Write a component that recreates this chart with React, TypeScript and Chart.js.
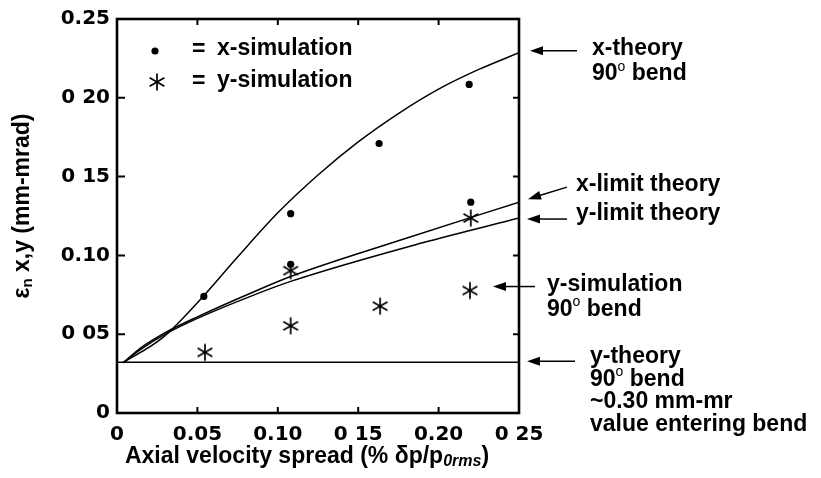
import React, { useEffect, useRef } from "react";
import { Chart, registerables } from "chart.js";
Chart.register(...registerables);

const xTickValues = [0, 0.05, 0.1, 0.15, 0.2, 0.25];
const xTickLabels = ["0", "0.05", "0.10", "0 15", "0.20", "0 25"];
const yTickValues = [0, 0.05, 0.1, 0.15, 0.2, 0.25];
const yTickLabels = ["0", "0 05", "0.10", "0 15", "0 20", "0.25"];

const xSimX = [0.054, 0.108, 0.108, 0.163, 0.219, 0.22];
const xSimY = [0.074, 0.1265, 0.0944, 0.171, 0.2085, 0.1338];
const ySimX = [0.0547, 0.108, 0.108, 0.1636, 0.2195, 0.22];
const ySimY = [0.0385, 0.0553, 0.0903, 0.0678, 0.0777, 0.1237];

const xTheoryX = [0.004, 0.0286, 0.05, 0.075, 0.1, 0.125, 0.15, 0.175, 0.2, 0.225, 0.25];
const xTheoryY = [0.032, 0.048, 0.07, 0.099, 0.127, 0.151, 0.172, 0.19, 0.2055, 0.218, 0.2286];
const xLimitX = [0.004, 0.015, 0.03, 0.05, 0.083, 0.108, 0.174, 0.25];
const xLimitY = [0.032, 0.0415, 0.051, 0.061, 0.076, 0.0866, 0.109, 0.1338];
const yLimitX = [0.004, 0.015, 0.03, 0.05, 0.083, 0.108, 0.19, 0.25];
const yLimitY = [0.032, 0.0405, 0.05, 0.06, 0.074, 0.0835, 0.108, 0.1237];
const yTheoryX = [0, 0.25];
const yTheoryY = [0.0322, 0.0322];

const TXT = '"Liberation Sans", Arial, sans-serif';

function pts(xs: number[], ys: number[]) {
  return xs.map((x, i) => ({ x, y: ys[i] }));
}

function makeAsterisk(): HTMLCanvasElement {
  const c = document.createElement("canvas");
  c.width = 20;
  c.height = 20;
  const g = c.getContext("2d")!;
  g.strokeStyle = "#000";
  g.lineWidth = 1.7;
  const r = 8.5;
  for (const a of [90, 30, 150]) {
    const rad = (a * Math.PI) / 180;
    g.beginPath();
    g.moveTo(10 - r * Math.cos(rad), 10 - r * Math.sin(rad));
    g.lineTo(10 + r * Math.cos(rad), 10 + r * Math.sin(rad));
    g.stroke();
  }
  return c;
}

type Part = { t: string; f: string; dy?: number };
function richWidth(ctx: CanvasRenderingContext2D, parts: Part[]) {
  let w = 0;
  for (const p of parts) {
    ctx.font = p.f;
    w += ctx.measureText(p.t).width;
  }
  return w;
}
function drawRich(ctx: CanvasRenderingContext2D, parts: Part[], x: number, y: number) {
  let cx = x;
  for (const p of parts) {
    ctx.font = p.f;
    ctx.fillText(p.t, cx, y + (p.dy || 0));
    cx += ctx.measureText(p.t).width;
  }
}

function arrow(ctx: CanvasRenderingContext2D, tx: number, ty: number, sx: number, sy: number) {
  const ang = Math.atan2(sy - ty, sx - tx);
  const hl = 13, hw = 4.5;
  ctx.strokeStyle = "#000";
  ctx.lineWidth = 1.5;
  ctx.beginPath();
  ctx.moveTo(tx + Math.cos(ang) * hl * 0.8, ty + Math.sin(ang) * hl * 0.8);
  ctx.lineTo(sx, sy);
  ctx.stroke();
  ctx.beginPath();
  ctx.moveTo(tx, ty);
  const bx = tx + Math.cos(ang) * hl, by = ty + Math.sin(ang) * hl;
  ctx.lineTo(bx - Math.sin(ang) * hw, by + Math.cos(ang) * hw);
  ctx.lineTo(bx + Math.sin(ang) * hw, by - Math.cos(ang) * hw);
  ctx.closePath();
  ctx.fillStyle = "#000";
  ctx.fill();
}

const asteriskImg = makeAsterisk();

const decorPlugin = {
  id: "decor",
  afterDraw(chart: any) {
    const ctx: CanvasRenderingContext2D = chart.ctx;
    const { left, right, top, bottom } = chart.chartArea;
    const xs = chart.scales.x;
    const ys = chart.scales.y;
    ctx.save();
    // frame
    ctx.strokeStyle = "#000";
    ctx.lineWidth = 2.6;
    ctx.strokeRect(left, top, right - left, bottom - top);
    // inward ticks
    ctx.lineWidth = 2;
    xs.ticks.forEach((t: any) => {
      const px = xs.getPixelForValue(t.value);
      ctx.beginPath();
      ctx.moveTo(px, bottom);
      ctx.lineTo(px, bottom - 6);
      ctx.moveTo(px, top);
      ctx.lineTo(px, top + 6);
      ctx.stroke();
    });
    ys.ticks.forEach((t: any) => {
      const py = ys.getPixelForValue(t.value);
      ctx.beginPath();
      ctx.moveTo(left, py);
      ctx.lineTo(left + 8, py);
      ctx.moveTo(right, py);
      ctx.lineTo(right - 6, py);
      ctx.stroke();
    });

    ctx.fillStyle = "#000";
    ctx.textBaseline = "middle";
    ctx.textAlign = "left";
    const f22 = `bold 23px ${TXT}`;

    // legend
    ctx.beginPath();
    ctx.arc(left + 38, top + 32, 3.6, 0, Math.PI * 2);
    ctx.fill();
    ctx.drawImage(asteriskImg, left + 40 - 10, top + 63 - 10);
    ctx.font = f22;
    ctx.fillText("=", left + 75, top + 31);
    ctx.fillText("x-simulation", left + 100, top + 30);
    ctx.fillText("=", left + 75, top + 63);
    ctx.fillText("y-simulation", left + 100, top + 62);

    const deg = (x: number, y: number) =>
      drawRich(ctx, [
        { t: "90", f: f22 },
        { t: "o", f: `14px ${TXT}`, dy: -7 },
        { t: " bend", f: f22 },
      ], x, y);

    // x-theory
    const yxt = ys.getPixelForValue(xTheoryY[xTheoryY.length - 1]);
    arrow(ctx, right + 11, yxt - 2, right + 58, yxt - 2);
    ctx.font = f22;
    ctx.fillText("x-theory", right + 73, yxt - 4);
    deg(right + 73, yxt + 21);

    // x-limit
    const yxl = ys.getPixelForValue(xLimitY[xLimitY.length - 1]);
    arrow(ctx, right + 9, yxl - 3, right + 48, yxl - 15);
    ctx.font = f22;
    ctx.fillText("x-limit theory", right + 57, yxl - 17);

    // y-limit
    const yyl = ys.getPixelForValue(yLimitY[yLimitY.length - 1]);
    arrow(ctx, right + 8, yyl + 1, right + 48, yyl + 1);
    ctx.font = f22;
    ctx.fillText("y-limit theory", right + 57, yyl - 4);

    // y-simulation
    const yys = ys.getPixelForValue(ySimY[4]) - 4;
    arrow(ctx, right - 26, yys, right + 16, yys);
    ctx.font = f22;
    ctx.fillText("y-simulation", right + 28, yys - 2);
    deg(right + 28, yys + 23);

    // y-theory
    const yyt = ys.getPixelForValue(yTheoryY[0]) - 1;
    arrow(ctx, right + 8, yyt, right + 56, yyt);
    ctx.font = f22;
    ctx.fillText("y-theory", right + 71, yyt - 5);
    deg(right + 71, yyt + 18);
    ctx.font = f22;
    ctx.fillText("~0.30 mm-mr", right + 71, yyt + 40);
    ctx.fillText("value entering bend", right + 71, yyt + 63);

    // x-axis title
    const xParts: Part[] = [
      { t: "Axial velocity spread (% \u03b4p/p", f: f22 },
      { t: "0rms", f: `italic bold 16px ${TXT}`, dy: 5 },
      { t: ")", f: f22 },
    ];
    const xw = richWidth(ctx, xParts);
    drawRich(ctx, xParts, (left + right) / 2 - 11 - xw / 2, 457);

    // y-axis title
    const yParts: Part[] = [
      { t: "\u03b5", f: f22 },
      { t: "n", f: `bold 15px ${TXT}`, dy: 5 },
      { t: " x,y (mm-mrad)", f: f22 },
    ];
    const yw = richWidth(ctx, yParts);
    ctx.translate(23, 206);
    ctx.rotate(-Math.PI / 2);
    drawRich(ctx, yParts, -yw / 2, 0);
    ctx.restore();
  },
};

export default function App() {
  const ref = useRef<HTMLCanvasElement>(null);
  useEffect(() => {
    const lineDs = (label: string, xs: number[], ys: number[]) => ({
      type: "line" as const,
      label,
      data: pts(xs, ys),
      borderColor: "#000",
      borderWidth: 1.5,
      pointRadius: 0,
      fill: false,
      cubicInterpolationMode: "monotone" as const,
    });
    const chart = new Chart(ref.current!, {
      type: "scatter",
      data: {
        datasets: [
          lineDs("x-theory", xTheoryX, xTheoryY),
          lineDs("x-limit theory", xLimitX, xLimitY),
          lineDs("y-limit theory", yLimitX, yLimitY),
          lineDs("y-theory", yTheoryX, yTheoryY),
          {
            label: "x-simulation",
            data: pts(xSimX, xSimY),
            pointStyle: "circle",
            pointRadius: 3.6,
            backgroundColor: "#000",
            borderColor: "#000",
            borderWidth: 0,
          },
          {
            label: "y-simulation",
            data: pts(ySimX, ySimY),
            pointStyle: asteriskImg as any,
            pointRadius: 9,
            backgroundColor: "#000",
            borderColor: "#000",
          },
        ],
      },
      options: {
        animation: false,
        responsive: true,
        maintainAspectRatio: false,
        layout: { padding: { left: 0, top: 15, right: 302, bottom: 0 } },
        plugins: { legend: { display: false }, tooltip: { enabled: false } },
        scales: {
          x: {
            type: "linear",
            min: 0,
            max: 0.25,
            afterBuildTicks: (s: any) => {
              s.ticks = xTickValues.map((v) => ({ value: v }));
            },
            afterFit: (s: any) => {
              s.height = 65;
            },
            grid: { display: false, drawTicks: false },
            border: { display: false },
            ticks: {
              padding: 10,
              color: "#000",
              font: { family: "DejaVu Sans", size: 20, weight: "bold" },
              maxRotation: 0,
              autoSkip: false,
              callback: (_v: any, i: number) => xTickLabels[i],
            },
          },
          y: {
            type: "linear",
            min: 0,
            max: 0.25,
            afterBuildTicks: (s: any) => {
              s.ticks = yTickValues.map((v) => ({ value: v }));
            },
            afterFit: (s: any) => {
              s.width = 117;
            },
            grid: { display: false, drawTicks: false },
            border: { display: false },
            ticks: {
              padding: 7,
              color: "#000",
              font: { family: "DejaVu Sans", size: 20, weight: "bold" },
              autoSkip: false,
              callback: (_v: any, i: number) => yTickLabels[i],
            },
          },
        },
      },
      plugins: [decorPlugin],
    } as any);
    return () => chart.destroy();
  }, []);
  return (
    <div style={{ position: "fixed", left: 0, top: 0, width: 821, height: 478, background: "#fff" }}>
      <canvas ref={ref} />
    </div>
  );
}
